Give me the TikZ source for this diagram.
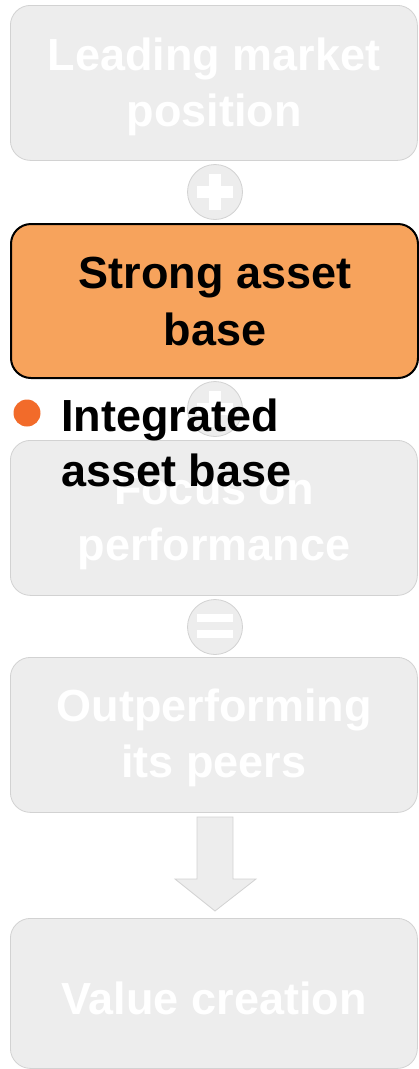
\documentclass[tikz,border=0pt]{standalone}
\usepackage{fontspec}
\setmainfont{Liberation Sans}
\begin{document}
\begin{tikzpicture}[x=1pt,y=-1pt,
  stagebox/.style={draw=ghostline, line width=0.8pt, fill=ghostfill, rounded corners=20pt,
    minimum width=407pt, anchor=north west, inner sep=0pt},
  ghosttext/.style={text=white, font=\fontsize{45}{56}\selectfont\bfseries, align=center},
  hotbox/.style={draw=black, line width=2pt, fill=hotfill, rounded corners=20pt,
    minimum width=407pt, minimum height=154pt, anchor=north west, inner sep=0pt},
  opcircle/.style={circle, draw=ghostline, line width=0.8pt, fill=ghostfill, minimum size=55pt, inner sep=0pt},
  bar/.style={fill=white, draw=none}]
\definecolor{ghostfill}{HTML}{EDEDED}
\definecolor{ghostline}{HTML}{D2D2D2}
\definecolor{hotfill}{HTML}{F7A35C}
\definecolor{bulletc}{HTML}{F26B2A}
\useasboundingbox (0,0) rectangle (418,1069);

% faded stage boxes
\node[stagebox, minimum height=155pt] (lead) at (10,5) {};
\node[ghosttext] at (214,87) {Leading market\\position};

\node[stagebox, minimum height=155pt] (focus) at (10,440) {};
\node[ghosttext] at (214,522) {Focus on\\performance};

\node[stagebox, minimum height=155pt] (outp) at (10,657) {};
\node[ghosttext] at (214,738) {Outperforming\\its peers};

\node[stagebox, minimum height=150pt] (value) at (10,918) {};
\node[ghosttext] at (214,998) {Value creation};

% operator circles
\node[opcircle] (plusa) at (215,192) {};
\fill[bar] (197,186) rectangle (233,198);
\fill[bar] (209,174) rectangle (221,210);

\node[opcircle] (plusb) at (215,409) {};
\fill[bar] (197,403) rectangle (233,415);
\fill[bar] (209,391) rectangle (221,427);

\node[opcircle] (equal) at (215,627) {};
\fill[bar] (197,614) rectangle (233,622);
\fill[bar] (197,630) rectangle (233,638);

% block arrow down to value creation
\filldraw[draw=ghostline, line width=0.8pt, fill=ghostfill]
  (197,817) -- (233,817) -- (233,879) -- (256,879) -- (215,911)
  -- (175,879) -- (197,879) -- cycle;

% highlighted stage
\node[hotbox] (strong) at (10,223) {};
\node[font=\fontsize{45}{57}\selectfont\bfseries, align=center] at (215,302) {Strong asset\\base};

% bullet
\fill[bulletc] (27,413) circle (13.5);
\node[anchor=north west, font=\fontsize{45}{55}\selectfont\bfseries, align=left, inner sep=0pt] (bul) at (61,399) {Integrated\\asset base};
\end{tikzpicture}
\end{document}
